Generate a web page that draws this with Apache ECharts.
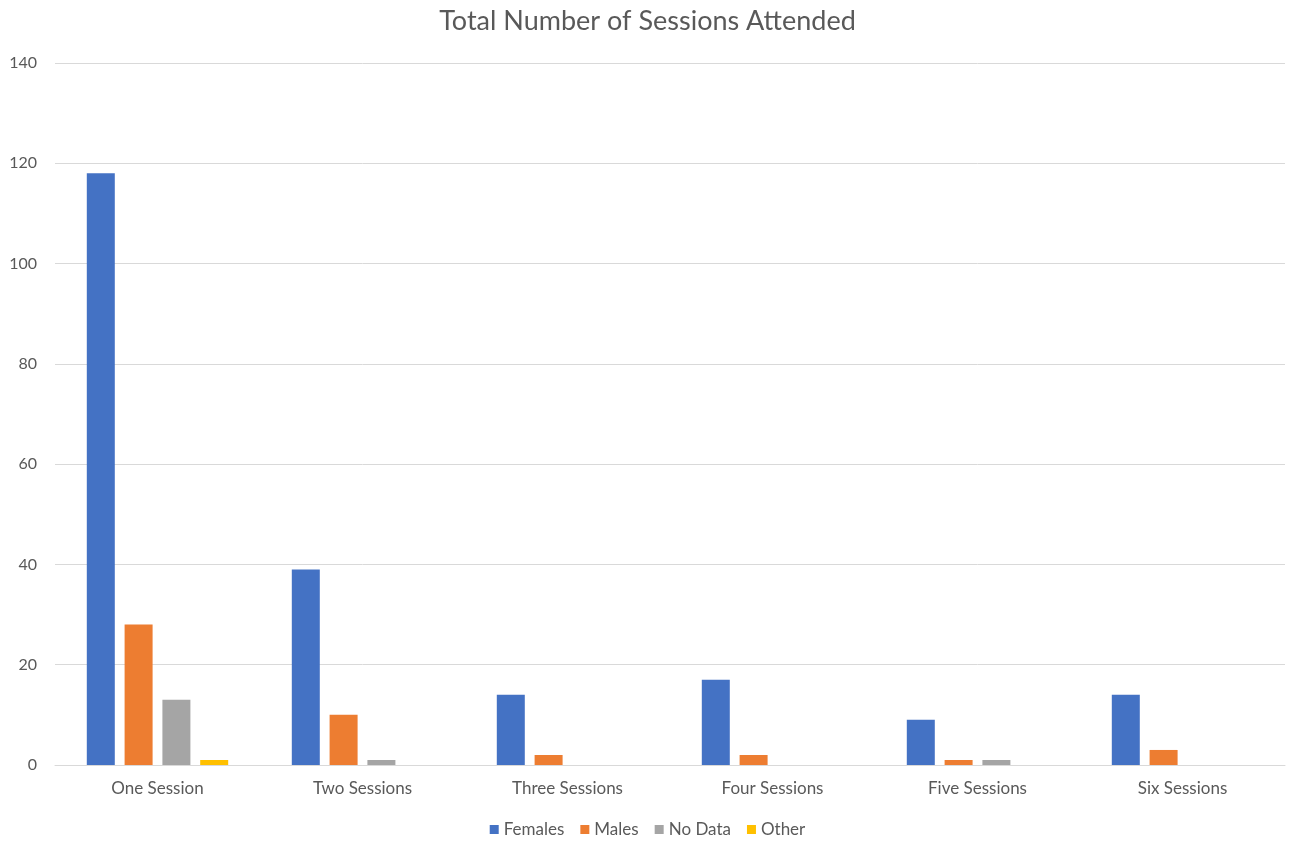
<!DOCTYPE html>
<html><head><meta charset="utf-8">
<script src="https://cdn.jsdelivr.net/npm/echarts@6/dist/echarts.min.js"></script>
<style>html,body{margin:0;padding:0;background:#fff}#c{width:1295px;height:844px}</style>
</head><body><div id="c"></div>
<script>
const categories = ['One Session','Two Sessions','Three Sessions','Four Sessions','Five Sessions','Six Sessions'];
const females = [118, 39, 14, 17, 9, 14];
const males = [28, 10, 2, 2, 1, 3];
const noData = [13, 1, 0, 0, 1, 0];
const other = [1, 0, 0, 0, 0, 0];
const yTicks = {min: 0, max: 140, interval: 20};

const font = 'Lato, "Open Sans", sans-serif';
const chart = echarts.init(document.getElementById('c'));
function bar(name, data, color) {
  return {name, type: 'bar', data, barWidth: 28, barGap: '35%', itemStyle: {color}};
}
chart.setOption({
  animation: false,
  textStyle: {fontFamily: font},
  title: {text: 'Total Number of Sessions Attended', left: 'center', top: 3,
    textStyle: {fontSize: 27, fontWeight: 'normal', color: '#595959', fontFamily: font}},
  legend: {bottom: 1, left: 'center', itemWidth: 9, itemHeight: 9, itemGap: 16, icon: 'rect',
    textStyle: {fontSize: 17, color: '#595959', fontFamily: font}},
  grid: {left: 55, right: 10, top: 63, bottom: 79, containLabel: false},
  xAxis: {type: 'category', data: categories,
    axisLine: {lineStyle: {color: '#d9d9d9', width: 1}},
    axisTick: {show: false},
    axisLabel: {fontSize: 17, color: '#595959', margin: 15, fontFamily: font}},
  yAxis: {type: 'value', min: yTicks.min, max: yTicks.max, interval: yTicks.interval,
    axisLine: {show: false}, axisTick: {show: false},
    splitLine: {lineStyle: {color: '#d9d9d9', width: 1}},
    axisLabel: {fontSize: 16, color: '#595959', margin: 18, fontFamily: font}},
  series: [
    bar('Females', females, '#4472c4'),
    bar('Males', males, '#ed7d31'),
    bar('No Data', noData, '#a5a5a5'),
    bar('Other', other, '#ffc000')
  ]
});
</script></body></html>
